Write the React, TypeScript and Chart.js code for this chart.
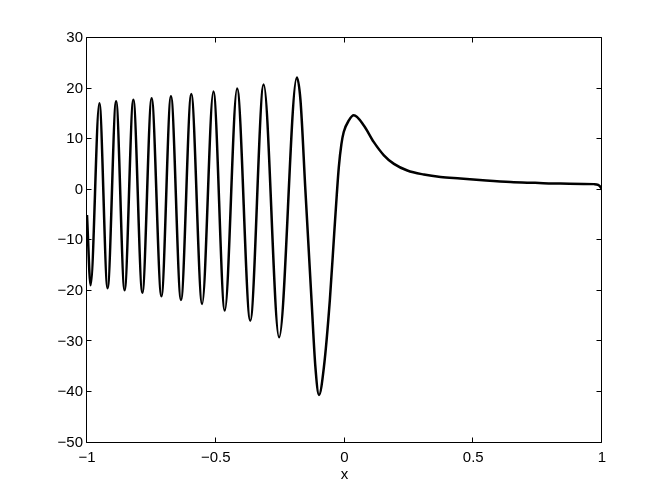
import { useEffect, useRef } from 'react';
import { Chart, registerables } from 'chart.js';

Chart.register(...registerables);

// Curve samples (x, y)
const xValues = [
  -1, -0.986, -0.952, -0.92, -0.887, -0.854, -0.82, -0.785, -0.749, -0.711,
  -0.674, -0.635, -0.595, -0.553, -0.509, -0.465, -0.417, -0.366, -0.314, -0.254,
  -0.185, -0.171, -0.152, -0.128, -0.113, -0.099, -0.08, -0.057, -0.04, -0.03,
  -0.022, -0.012, -0.003, 0.017, 0.036, 0.075, 0.114, 0.153, 0.192, 0.244, 0.308,
  0.373, 0.45, 0.55, 0.645, 0.74, 0.839, 0.969, 0.985, 0.995, 1.0,
];
const yValues = [
  -5, -18.9, 17.1, -19.5, 17.5, -19.9, 17.8, -20.4, 18.1, -21.1,
  18.5, -21.8, 18.9, -22.6, 19.4, -23.9, 20.0, -25.9, 20.8, -29.2,
  22.2, 17.7, 0, -21.9, -35.1, -40.6, -35.1, -21.9, -8.7, -1.0,
  4.5, 9.0, 11.4, 13.7, 14.7, 12.7, 9.4, 6.8, 5.1, 3.8, 3.0,
  2.5, 2.2, 1.8, 1.5, 1.35, 1.2, 1.1, 0.95, 0.5, 0.0,
];
const xTicks = [-1, -0.5, 0, 0.5, 1];
const yTicks = [-50, -40, -30, -20, -10, 0, 10, 20, 30];
const xTitle = 'x';

const FONT = '"Liberation Sans", Arial, Helvetica, sans-serif';

const fmt = (v: number) => (v < 0 ? '\u2212' + String(Math.abs(v)) : String(v));

const framePlugin = {
  id: 'matlabFrame',
  afterDatasetsDraw(chart: any) {
    const { ctx, chartArea: a, scales } = chart;
    const L = Math.round(a.left) - 0.5;
    const R = Math.round(a.right) - 0.5;
    const T = Math.round(a.top) - 0.5;
    const B = Math.round(a.bottom) - 0.5;
    const len = 5;
    ctx.save();
    ctx.strokeStyle = '#000';
    ctx.lineWidth = 1;
    ctx.beginPath();
    ctx.moveTo(L, T);
    ctx.lineTo(R, T);
    ctx.lineTo(R, B);
    ctx.lineTo(L, B);
    ctx.closePath();
    for (const v of xTicks) {
      const px = Math.round(scales.x.getPixelForValue(v)) - 0.5;
      ctx.moveTo(px, B);
      ctx.lineTo(px, B - len);
      ctx.moveTo(px, T);
      ctx.lineTo(px, T + len);
    }
    for (const v of yTicks) {
      const py = Math.round(scales.y.getPixelForValue(v)) - 0.5;
      ctx.moveTo(L, py);
      ctx.lineTo(L + len, py);
      ctx.moveTo(R, py);
      ctx.lineTo(R - len, py);
    }
    ctx.stroke();
    ctx.restore();
  },
};

export default function App() {
  const ref = useRef<HTMLCanvasElement | null>(null);

  useEffect(() => {
    if (!ref.current) return;
    const points = xValues.map((x, i) => ({ x, y: yValues[i] }));
    const chart = new Chart(ref.current, {
      type: 'line',
      data: {
        datasets: [
          {
            data: points,
            borderColor: '#000',
            borderWidth: 2.5,
            pointRadius: 0,
            fill: false,
            cubicInterpolationMode: 'monotone',
          },
        ],
      },
      options: {
        responsive: false,
        animation: false,
        events: [],
        layout: { padding: { top: 38, right: 62, left: 0, bottom: 0 } },
        plugins: { legend: { display: false }, tooltip: { enabled: false } },
        scales: {
          x: {
            type: 'linear',
            min: -1,
            max: 1,
            afterBuildTicks: (s: any) => {
              s.ticks = xTicks.map((v) => ({ value: v }));
            },
            afterFit: (s: any) => {
              s.height = 56.5;
            },
            grid: { display: false, drawTicks: false },
            border: { display: false },
            ticks: {
              color: '#000',
              padding: 6,
              maxRotation: 0,
              autoSkip: false,
              font: { family: FONT, size: 15 },
              callback: (v: any) => fmt(Number(v)),
            },
            title: {
              display: true,
              text: xTitle,
              color: '#000',
              font: { family: FONT, size: 15 },
              padding: { top: 0, bottom: 15 },
            },
          },
          y: {
            type: 'linear',
            min: -50,
            max: 30,
            afterBuildTicks: (s: any) => {
              s.ticks = yTicks.map((v) => ({ value: v }));
            },
            afterFit: (s: any) => {
              s.width = 87;
            },
            grid: { display: false, drawTicks: false },
            border: { display: false },
            ticks: {
              color: '#000',
              padding: 4,
              autoSkip: false,
              font: { family: FONT, size: 15 },
              callback: (v: any) => fmt(Number(v)),
            },
          },
        },
      },
      plugins: [framePlugin],
    } as any);
    return () => chart.destroy();
  }, []);

  return (
    <div style={{ position: 'absolute', left: 0, top: 0, width: 664, height: 499, background: '#fff' }}>
      <canvas ref={ref} width={664} height={499} style={{ display: 'block' }} />
    </div>
  );
}
